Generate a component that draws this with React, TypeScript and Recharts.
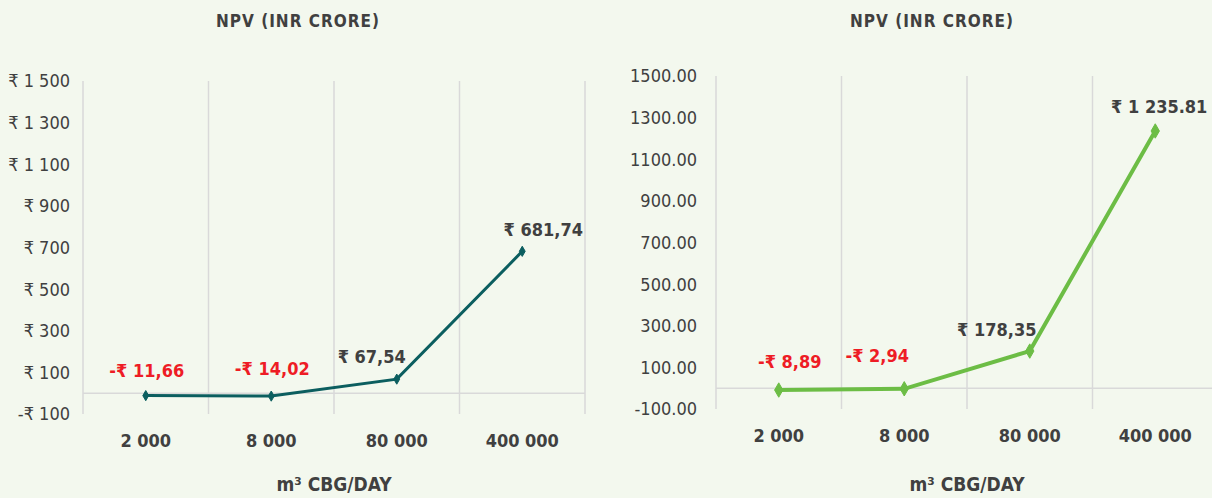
import { CartesianGrid, LabelList, Line, LineChart, ReferenceLine, Symbols, XAxis, YAxis } from 'recharts';

const categories = ['2 000', '8 000', '80 000', '400 000'];
const leftValues = [-11.66, -14.02, 67.54, 681.74];
const leftLabels = ['-₹ 11,66', '-₹ 14,02', '₹ 67,54', '₹ 681,74'];
const rightValues = [-8.89, -2.94, 178.35, 1235.81];
const rightLabels = ['-₹ 8,89', '-₹ 2,94', '₹ 178,35', '₹ 1 235.81'];
const yTicks = [-100, 100, 300, 500, 700, 900, 1100, 1300, 1500];

const FONT = "'DejaVu Sans Condensed', 'Liberation Sans Narrow', 'DejaVu Sans', sans-serif";
const INK = '#404040';
const RED = '#ee1c25';
const GRID = '#d9d9d9';
const BG = '#f3f8ee';

const leftRows = categories.map((c, i) => ({ cat: c, v: leftValues[i], label: leftLabels[i] }));
const rightRows = categories.map((c, i) => ({ cat: c, v: rightValues[i], label: rightLabels[i] }));

// label offsets from the point (label centre)
const leftOffsets = [[1, -25], [1, -28], [-25, -23], [21, -22]];
const rightOffsets = [[11, -29], [-27, -33], [-33, -22], [4, -24]];

const PLOT_W = 502;
const HALF_BAND = PLOT_W / categories.length / 2;

function rupee(v: number) {
  const s = Math.abs(v).toString().replace(/\B(?=(\d{3})+(?!\d))/g, ' ');
  return v < 0 ? `-₹ ${s}` : `₹ ${s}`;
}

function makeLabel(rows: { label: string; v: number }[], offsets: number[][]) {
  return (props: any) => {
    const { x, y, index } = props;
    const r = rows[index];
    const [dx, dy] = offsets[index];
    return (
      <text
        x={x + dx}
        y={y + dy}
        textAnchor="middle"
        dominantBaseline="central"
        fontFamily={FONT}
        fontWeight={700}
        fontSize={18}
        fill={r.v < 0 ? RED : INK}
      >
        {r.label}
      </text>
    );
  };
}

function bandLines({ offset }: any) {
  const out: number[] = [];
  for (let i = 0; i <= categories.length; i++) out.push(offset.left + (i * PLOT_W) / categories.length);
  return out;
}

function Panel(props: {
  rows: any[];
  offsets: number[][];
  color: string;
  width: number;
  yWidth: number;
  top: number;
  tickMargin: number;
  fmt: (v: number) => string;
  dotSize: number;
  strokeWidth: number;
}) {
  const { rows, offsets, color, width, yWidth, top, tickMargin, fmt, dotSize, strokeWidth } = props;
  return (
    <LineChart
      width={width}
      height={498}
      data={rows}
      margin={{ top, right: width - yWidth - PLOT_W, bottom: 0, left: 0 }}
    >
      <CartesianGrid horizontal={false} stroke={GRID} strokeWidth={1.5} verticalCoordinatesGenerator={bandLines} />
      <XAxis
        dataKey="cat"
        axisLine={false}
        tickLine={false}
        tickMargin={14}
        padding={{ left: HALF_BAND, right: HALF_BAND }}
        height={498 - top - 333}
        tick={{ fontFamily: FONT, fontWeight: 700, fontSize: 18, fill: INK }}
        label={{
          value: 'm³ CBG/DAY',
          position: 'insideBottom',
          offset: 7,
          style: { fontFamily: FONT, fontWeight: 700, fontSize: 19, fill: INK },
        }}
      />
      <YAxis
        width={yWidth}
        domain={[-100, 1500]}
        ticks={yTicks}
        axisLine={false}
        tickLine={false}
        tickMargin={tickMargin}
        tickFormatter={fmt}
        tick={{ fontFamily: FONT, fontSize: 18, fill: INK }}
      />
      <ReferenceLine y={0} stroke={GRID} strokeWidth={1.5} />
      <Line
        dataKey="v"
        stroke={color}
        strokeWidth={strokeWidth}
        isAnimationActive={false}
        dot={(p: any) => (
          <Symbols key={p.index} cx={p.cx} cy={p.cy} type="diamond" size={dotSize} fill={color} stroke={color} />
        )}
      >
        <LabelList dataKey="label" content={makeLabel(rows, offsets)} />
      </Line>
    </LineChart>
  );
}

const titleStyle: React.CSSProperties = {
  position: 'absolute',
  top: 11,
  transform: 'translateX(-50%)',
  fontFamily: FONT,
  fontWeight: 700,
  fontSize: 17,
  letterSpacing: 1,
  color: INK,
  whiteSpace: 'nowrap',
};

export default function App() {
  return (
    <div style={{ position: 'relative', width: 1212, height: 498, background: BG, overflow: 'hidden' }}>
      <style>{'body{margin:0}'}</style>
      <div style={{ position: 'absolute', left: 0, top: 0 }}>
        <Panel
          rows={leftRows}
          offsets={leftOffsets}
          color="#0b5e5f"
          width={606}
          yWidth={83}
          top={81}
          tickMargin={7}
          fmt={rupee}
          dotSize={30}
          strokeWidth={3}
        />
      </div>
      <div style={{ position: 'absolute', left: 606, top: 0 }}>
        <Panel
          rows={rightRows}
          offsets={rightOffsets}
          color="#6cbd45"
          width={612}
          yWidth={110}
          top={76}
          tickMargin={13}
          fmt={(v) => v.toFixed(2)}
          dotSize={60}
          strokeWidth={4}
        />
      </div>
      <div style={{ ...titleStyle, left: 298 }}>NPV (INR CRORE)</div>
      <div style={{ ...titleStyle, left: 932 }}>NPV (INR CRORE)</div>
    </div>
  );
}
